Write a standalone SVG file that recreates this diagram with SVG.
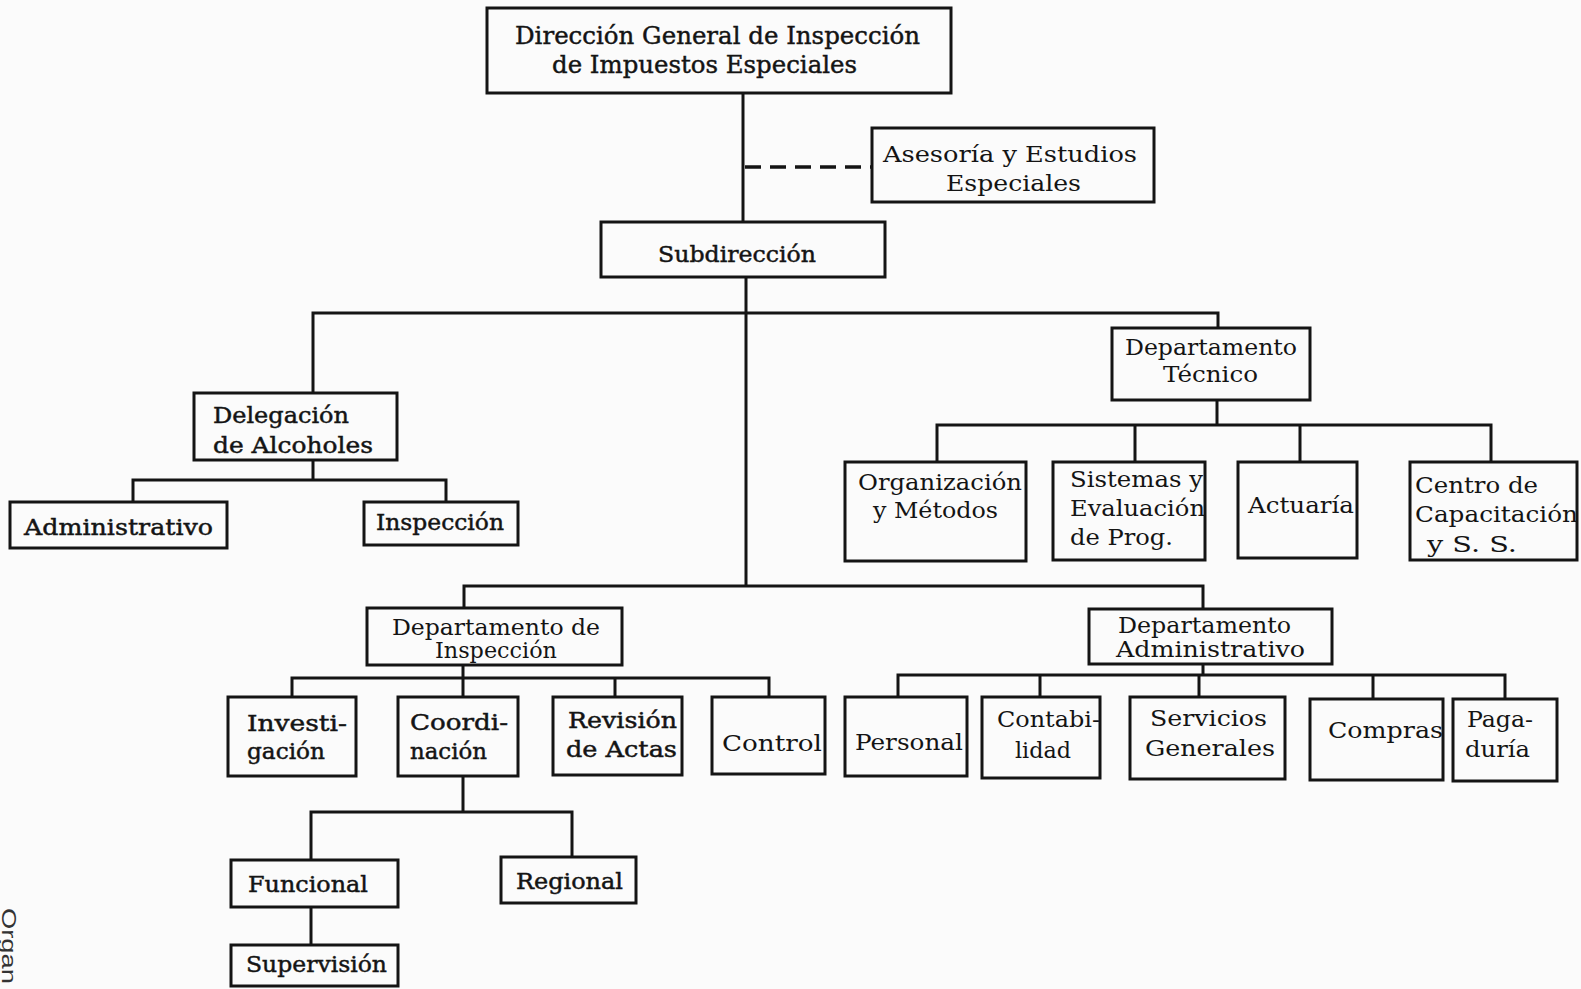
<svg xmlns="http://www.w3.org/2000/svg" width="1581" height="989" viewBox="0 0 1581 989">
  <style>
    .box { fill: none; stroke: #141414; stroke-width: 3; }
    .ln { fill: none; stroke: #141414; stroke-width: 3; }
    .dash { fill: none; stroke: #141414; stroke-width: 3.5; stroke-dasharray: 16 9; }
    .t { font-family: "DejaVu Serif", "Liberation Serif", serif; font-size: 22px; fill: #141414; }
    .big { font-size: 25px; }
    .heavy { stroke: #141414; stroke-width: 0.45; }
    .cap { font-family: "Liberation Sans", Arial, sans-serif; font-size: 21px; fill: #333; }
  </style>
  <rect x="0" y="0" width="1581" height="989" fill="#fbfbfb"/>

  <!-- connectors -->
  <g id="connectors">
    <path class="ln" d="M743 93 V222"/>
    <path class="dash" d="M745 167 H872"/>
    <path class="ln" d="M746 277 V586"/>
    <path class="ln" d="M313 393 V313 H1218 V328"/>
    <path class="ln" d="M313 460 V480 M133 502 V480 H446 V502"/>
    <path class="ln" d="M1217 400 V425 M937 462 V425 H1491 V462 M1135 425 V462 M1300 425 V462"/>
    <path class="ln" d="M464 608 V586 H1203 V609"/>
    <path class="ln" d="M463 665 V678 M292 697 V678 H769 V697 M463 678 V697 M615 678 V697"/>
    <path class="ln" d="M1203 664 V675 M898 697 V675 H1505 V699 M1040 675 V697 M1199 675 V697 M1373 675 V699"/>
    <path class="ln" d="M463 776 V812 M311 860 V812 H572 V857"/>
    <path class="ln" d="M311 907 V945"/>
  </g>

  <g id="direccion-general">
    <rect class="box" x="487" y="8" width="464" height="85"/>
    <text class="t big heavy" x="515" y="44" textLength="405" lengthAdjust="spacingAndGlyphs">Dirección General de Inspección</text>
    <text class="t big heavy" x="552" y="73" textLength="305" lengthAdjust="spacingAndGlyphs">de Impuestos Especiales</text>
  </g>

  <g id="asesoria">
    <rect class="box" x="872" y="128" width="282" height="74"/>
    <text class="t" x="883" y="162" textLength="254" lengthAdjust="spacingAndGlyphs">Asesoría y Estudios</text>
    <text class="t" x="946" y="191" textLength="135" lengthAdjust="spacingAndGlyphs">Especiales</text>
  </g>

  <g id="subdireccion">
    <rect class="box" x="601" y="222" width="284" height="55"/>
    <text class="t heavy" x="658" y="262" textLength="158" lengthAdjust="spacingAndGlyphs">Subdirección</text>
  </g>

  <g id="delegacion-alcoholes">
    <rect class="box" x="194" y="393" width="203" height="67"/>
    <text class="t heavy" x="213" y="423" textLength="136" lengthAdjust="spacingAndGlyphs">Delegación</text>
    <text class="t heavy" x="213" y="453" textLength="160" lengthAdjust="spacingAndGlyphs">de Alcoholes</text>
  </g>

  <g id="administrativo">
    <rect class="box" x="10" y="502" width="217" height="46"/>
    <text class="t heavy" x="24" y="535" textLength="189" lengthAdjust="spacingAndGlyphs">Administrativo</text>
  </g>

  <g id="inspeccion">
    <rect class="box" x="364" y="502" width="154" height="43"/>
    <text class="t heavy" x="376" y="530" textLength="128" lengthAdjust="spacingAndGlyphs">Inspección</text>
  </g>

  <g id="departamento-tecnico">
    <rect class="box" x="1112" y="328" width="198" height="72"/>
    <text class="t" x="1125" y="355" textLength="172" lengthAdjust="spacingAndGlyphs">Departamento</text>
    <text class="t" x="1163" y="382" textLength="95" lengthAdjust="spacingAndGlyphs">Técnico</text>
  </g>

  <g id="organizacion-metodos">
    <rect class="box" x="845" y="462" width="181" height="99"/>
    <text class="t" x="858" y="490" textLength="164" lengthAdjust="spacingAndGlyphs">Organización</text>
    <text class="t" x="873" y="518" textLength="125" lengthAdjust="spacingAndGlyphs">y Métodos</text>
  </g>

  <g id="sistemas-evaluacion">
    <rect class="box" x="1053" y="462" width="152" height="98"/>
    <text class="t" x="1070" y="487" textLength="133" lengthAdjust="spacingAndGlyphs">Sistemas y</text>
    <text class="t" x="1070" y="516" textLength="135" lengthAdjust="spacingAndGlyphs">Evaluación</text>
    <text class="t" x="1070" y="545" textLength="103" lengthAdjust="spacingAndGlyphs">de Prog.</text>
  </g>

  <g id="actuaria">
    <rect class="box" x="1238" y="462" width="119" height="96"/>
    <text class="t" x="1248" y="513" textLength="106" lengthAdjust="spacingAndGlyphs">Actuaría</text>
  </g>

  <g id="centro-capacitacion">
    <rect class="box" x="1410" y="462" width="167" height="98"/>
    <text class="t" x="1415" y="493" textLength="123" lengthAdjust="spacingAndGlyphs">Centro de</text>
    <text class="t" x="1415" y="522" textLength="163" lengthAdjust="spacingAndGlyphs">Capacitación</text>
    <text class="t" x="1427" y="552" textLength="90" lengthAdjust="spacingAndGlyphs">y S. S.</text>
  </g>

  <g id="departamento-inspeccion">
    <rect class="box" x="367" y="608" width="255" height="57"/>
    <text class="t" x="392" y="635" textLength="208" lengthAdjust="spacingAndGlyphs">Departamento de</text>
    <text class="t" x="435" y="658" textLength="122" lengthAdjust="spacingAndGlyphs">Inspección</text>
  </g>

  <g id="departamento-administrativo">
    <rect class="box" x="1089" y="609" width="243" height="55"/>
    <text class="t" x="1118" y="633" textLength="173" lengthAdjust="spacingAndGlyphs">Departamento</text>
    <text class="t" x="1116" y="657" textLength="189" lengthAdjust="spacingAndGlyphs">Administrativo</text>
  </g>

  <g id="investigacion">
    <rect class="box" x="228" y="697" width="128" height="79"/>
    <text class="t heavy" x="247" y="731" textLength="100" lengthAdjust="spacingAndGlyphs">Investi-</text>
    <text class="t heavy" x="247" y="759" textLength="78" lengthAdjust="spacingAndGlyphs">gación</text>
  </g>

  <g id="coordinacion">
    <rect class="box" x="398" y="697" width="120" height="79"/>
    <text class="t heavy" x="410" y="730" textLength="98" lengthAdjust="spacingAndGlyphs">Coordi-</text>
    <text class="t heavy" x="410" y="759" textLength="77" lengthAdjust="spacingAndGlyphs">nación</text>
  </g>

  <g id="revision-actas">
    <rect class="box" x="553" y="697" width="129" height="78"/>
    <text class="t heavy" x="568" y="728" textLength="109" lengthAdjust="spacingAndGlyphs">Revisión</text>
    <text class="t heavy" x="566" y="757" textLength="111" lengthAdjust="spacingAndGlyphs">de Actas</text>
  </g>

  <g id="control">
    <rect class="box" x="712" y="697" width="113" height="77"/>
    <text class="t" x="722" y="751" textLength="100" lengthAdjust="spacingAndGlyphs">Control</text>
  </g>

  <g id="personal">
    <rect class="box" x="845" y="697" width="122" height="79"/>
    <text class="t" x="855" y="750" textLength="108" lengthAdjust="spacingAndGlyphs">Personal</text>
  </g>

  <g id="contabilidad">
    <rect class="box" x="982" y="697" width="118" height="81"/>
    <text class="t" x="997" y="727" textLength="103" lengthAdjust="spacingAndGlyphs">Contabi-</text>
    <text class="t" x="1015" y="758" textLength="56" lengthAdjust="spacingAndGlyphs">lidad</text>
  </g>

  <g id="servicios-generales">
    <rect class="box" x="1130" y="697" width="155" height="82"/>
    <text class="t" x="1150" y="726" textLength="117" lengthAdjust="spacingAndGlyphs">Servicios</text>
    <text class="t" x="1145" y="756" textLength="130" lengthAdjust="spacingAndGlyphs">Generales</text>
  </g>

  <g id="compras">
    <rect class="box" x="1310" y="699" width="133" height="81"/>
    <text class="t" x="1328" y="738" textLength="115" lengthAdjust="spacingAndGlyphs">Compras</text>
  </g>

  <g id="pagaduria">
    <rect class="box" x="1453" y="699" width="104" height="82"/>
    <text class="t" x="1467" y="727" textLength="66" lengthAdjust="spacingAndGlyphs">Paga-</text>
    <text class="t" x="1465" y="757" textLength="65" lengthAdjust="spacingAndGlyphs">duría</text>
  </g>

  <g id="funcional">
    <rect class="box" x="231" y="860" width="167" height="47"/>
    <text class="t heavy" x="248" y="892" textLength="120" lengthAdjust="spacingAndGlyphs">Funcional</text>
  </g>

  <g id="regional">
    <rect class="box" x="501" y="857" width="135" height="46"/>
    <text class="t heavy" x="516" y="889" textLength="107" lengthAdjust="spacingAndGlyphs">Regional</text>
  </g>

  <g id="supervision">
    <rect class="box" x="231" y="945" width="167" height="41"/>
    <text class="t heavy" x="246" y="972" textLength="141" lengthAdjust="spacingAndGlyphs">Supervisión</text>
  </g>

  <!-- page caption running down the left margin -->
  <text class="cap" x="2" y="908" transform="rotate(90 2 908)" textLength="76" lengthAdjust="spacingAndGlyphs">Organ</text>
</svg>
